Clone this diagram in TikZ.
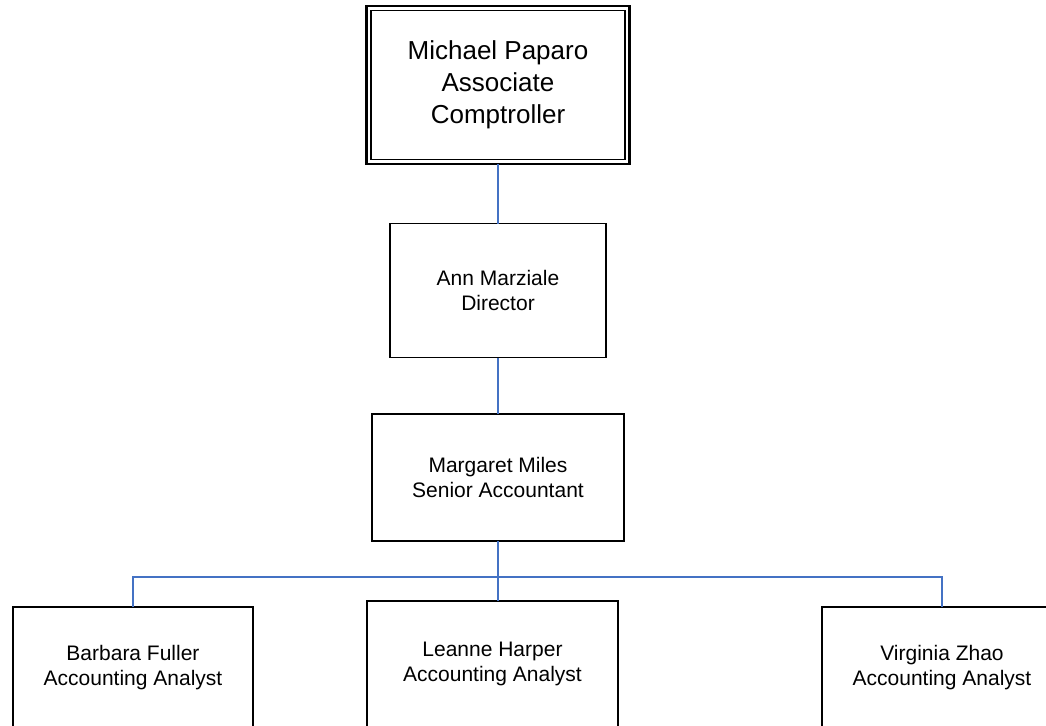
\documentclass[tikz,border=0pt]{standalone}
\usepackage{fontspec}
\setmainfont{Liberation Sans}
\definecolor{linkblue}{RGB}{68,114,196}
\begin{document}
\begin{tikzpicture}[x=1pt,y=1pt,
  box/.style={draw=black, line width=1.8pt, fill=white, inner sep=0pt, outer sep=0pt,
    align=center, font=\fontsize{21}{24.5}\selectfont},
  topbox/.style={draw=black, line width=2.2pt, fill=white, inner sep=0pt, outer sep=0pt,
    align=center, font=\fontsize{26}{32}\selectfont},
  link/.style={draw=linkblue, line width=1.8pt}]
\useasboundingbox (0,0) rectangle (1046,-725);
\clip (0,0) rectangle (1046,-725);
\coordinate (j) at (498,-577);
\node[topbox, minimum width=263pt, minimum height=158pt] (top) at (498,-85) {};
\node[box, minimum width=216pt, minimum height=134pt] (dir) at (498,-290.5) {Ann Marziale\\Director};
\node[box, minimum width=252pt, minimum height=127pt] (mm) at (498,-477.5) {Margaret Miles\\Senior Accountant};
\node[box, minimum width=240pt, minimum height=121pt] (bf) at (133,-667.5) {Barbara Fuller\\Accounting Analyst};
\node[box, minimum width=251pt, minimum height=126pt] (lh) at (492.5,-664) {Leanne Harper\\Accounting Analyst};
\node[box, minimum width=240pt, minimum height=121pt] (vz) at (942,-667.5) {Virginia Zhao\\Accounting Analyst};
\draw[line width=1.3pt] ([xshift=4.5pt,yshift=-4.5pt]top.north west) rectangle ([xshift=-4.5pt,yshift=4.5pt]top.south east);
\node[font=\fontsize{26}{32}\selectfont, align=center] (toptext) at (top.center) {Michael Paparo\\Associate\\Comptroller};
\draw[link] (top.south) -- (dir.north);
\draw[link] (dir.south) -- (mm.north);
\draw[link] (mm.south) -- (j);
\draw[link] (j) -- (j |- lh.north);
\draw[link] (bf.north) |- (j);
\draw[link] (vz.north) |- (j);
\end{tikzpicture}
\end{document}
